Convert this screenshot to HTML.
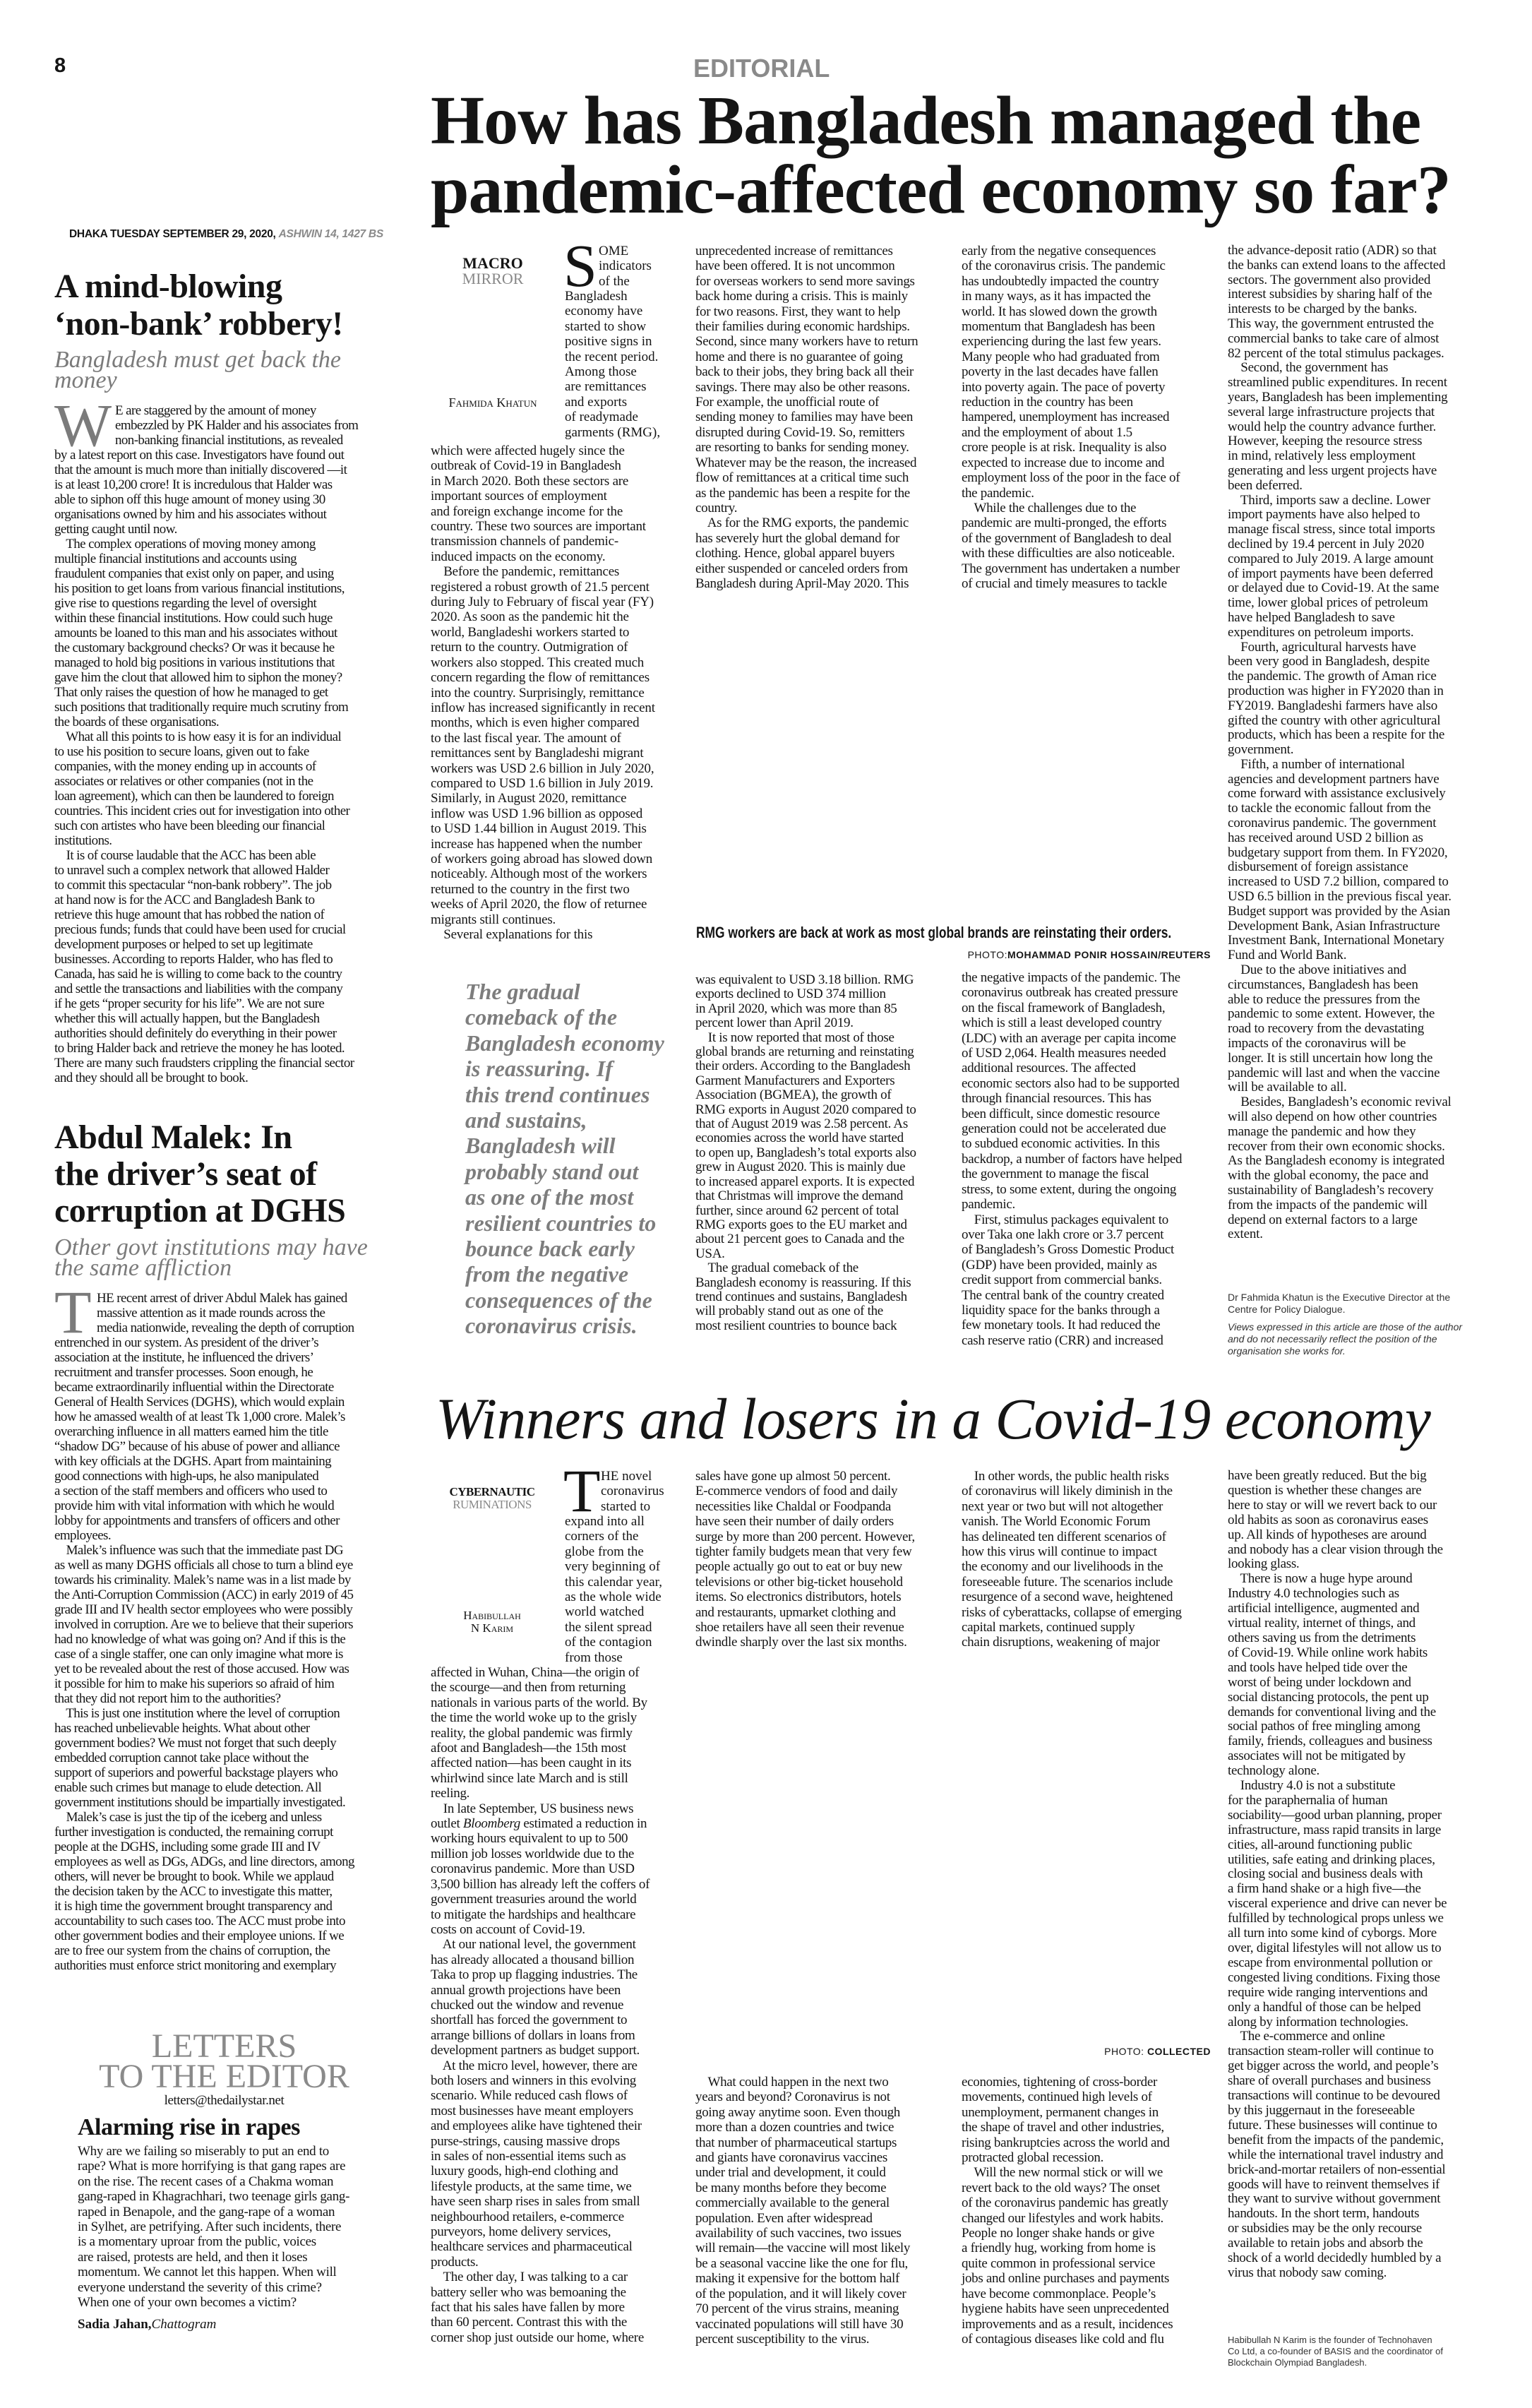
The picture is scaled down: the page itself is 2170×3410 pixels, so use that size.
<!DOCTYPE html>
<html><head><meta charset="utf-8">
<style>
html,body{margin:0;padding:0;background:#fff;}
body{width:2170px;height:3410px;position:relative;overflow:hidden;font-family:"Liberation Serif",serif;color:#151515;}
.a{position:absolute;white-space:pre;}
.b{font-size:19px;line-height:21.4px;}
.l{font-size:19px;line-height:21px;letter-spacing:-0.6px;}
.g{color:#7b7b7b;}
.sans{font-family:"Liberation Sans",sans-serif;}
</style></head><body>

<div class="a sans" style="left:77px;top:79px;font-size:29px;line-height:29px;font-weight:bold;">8</div>
<div class="a sans g" style="left:982px;top:79px;font-size:36px;line-height:36px;font-weight:bold;color:#8a8a8a;">EDITORIAL</div>

<div class="a" style="left:610px;top:122px;font-size:98px;line-height:98px;font-weight:bold;letter-spacing:-1px;">How has Bangladesh managed the
pandemic-affected economy so far?</div>

<div class="a sans" style="left:98px;top:324px;font-size:16px;line-height:16px;font-weight:bold;transform:scaleX(0.97);transform-origin:0 0;letter-spacing:-0.3px;">DHAKA TUESDAY SEPTEMBER 29, 2020, <i style="color:#8a8a8a">ASHWIN 14, 1427 BS</i></div>

<!-- LEFT COLUMN ARTICLE 1 -->
<div class="a" style="left:77px;top:379px;font-size:48px;line-height:53px;font-weight:bold;letter-spacing:-0.5px;">A mind-blowing
‘non-bank’ robbery!</div>
<div class="a g" style="left:77px;top:495px;font-size:34px;line-height:29px;font-style:italic;">Bangladesh must get back the
money</div>
<div class="a g" style="left:77px;top:559px;font-size:86px;line-height:86px;">W</div>
<div class="a l" style="left:163px;top:571px;">E are staggered by the amount of money
embezzled by PK Halder and his associates from
non-banking financial institutions, as revealed</div>
<div class="a l" style="left:77px;top:634px;">by a latest report on this case. Investigators have found out
that the amount is much more than initially discovered —it
is at least 10,200 crore! It is incredulous that Halder was
able to siphon off this huge amount of money using 30
organisations owned by him and his associates without
getting caught until now.
    The complex operations of moving money among
multiple financial institutions and accounts using
fraudulent companies that exist only on paper, and using
his position to get loans from various financial institutions,
give rise to questions regarding the level of oversight
within these financial institutions. How could such huge
amounts be loaned to this man and his associates without
the customary background checks? Or was it because he
managed to hold big positions in various institutions that
gave him the clout that allowed him to siphon the money?
That only raises the question of how he managed to get
such positions that traditionally require much scrutiny from
the boards of these organisations.
    What all this points to is how easy it is for an individual
to use his position to secure loans, given out to fake
companies, with the money ending up in accounts of
associates or relatives or other companies (not in the
loan agreement), which can then be laundered to foreign
countries. This incident cries out for investigation into other
such con artistes who have been bleeding our financial
institutions.
    It is of course laudable that the ACC has been able
to unravel such a complex network that allowed Halder
to commit this spectacular “non-bank robbery”. The job
at hand now is for the ACC and Bangladesh Bank to
retrieve this huge amount that has robbed the nation of
precious funds; funds that could have been used for crucial
development purposes or helped to set up legitimate
businesses. According to reports Halder, who has fled to
Canada, has said he is willing to come back to the country
and settle the transactions and liabilities with the company
if he gets “proper security for his life”. We are not sure
whether this will actually happen, but the Bangladesh
authorities should definitely do everything in their power
to bring Halder back and retrieve the money he has looted.
There are many such fraudsters crippling the financial sector
and they should all be brought to book.</div>

<!-- LEFT COLUMN ARTICLE 2 -->
<div class="a" style="left:77px;top:1585px;font-size:48px;line-height:52px;font-weight:bold;letter-spacing:-0.5px;">Abdul Malek: In
the driver’s seat of
corruption at DGHS</div>
<div class="a g" style="left:77px;top:1752px;font-size:34px;line-height:29px;font-style:italic;">Other govt institutions may have
the same affliction</div>
<div class="a g" style="left:77px;top:1815px;font-size:86px;line-height:86px;">T</div>
<div class="a l" style="left:137px;top:1828px;">HE recent arrest of driver Abdul Malek has gained
massive attention as it made rounds across the
media nationwide, revealing the depth of corruption</div>
<div class="a l" style="left:77px;top:1891px;">entrenched in our system. As president of the driver’s
association at the institute, he influenced the drivers’
recruitment and transfer processes. Soon enough, he
became extraordinarily influential within the Directorate
General of Health Services (DGHS), which would explain
how he amassed wealth of at least Tk 1,000 crore. Malek’s
overarching influence in all matters earned him the title
“shadow DG” because of his abuse of power and alliance
with key officials at the DGHS. Apart from maintaining
good connections with high-ups, he also manipulated
a section of the staff members and officers who used to
provide him with vital information with which he would
lobby for appointments and transfers of officers and other
employees.
    Malek’s influence was such that the immediate past DG
as well as many DGHS officials all chose to turn a blind eye
towards his criminality. Malek’s name was in a list made by
the Anti-Corruption Commission (ACC) in early 2019 of 45
grade III and IV health sector employees who were possibly
involved in corruption. Are we to believe that their superiors
had no knowledge of what was going on? And if this is the
case of a single staffer, one can only imagine what more is
yet to be revealed about the rest of those accused. How was
it possible for him to make his superiors so afraid of him
that they did not report him to the authorities?
    This is just one institution where the level of corruption
has reached unbelievable heights. What about other
government bodies? We must not forget that such deeply
embedded corruption cannot take place without the
support of superiors and powerful backstage players who
enable such crimes but manage to elude detection. All
government institutions should be impartially investigated.
    Malek’s case is just the tip of the iceberg and unless
further investigation is conducted, the remaining corrupt
people at the DGHS, including some grade III and IV
employees as well as DGs, ADGs, and line directors, among
others, will never be brought to book. While we applaud
the decision taken by the ACC to investigate this matter,
it is high time the government brought transparency and
accountability to such cases too. The ACC must probe into
other government bodies and their employee unions. If we
are to free our system from the chains of corruption, the
authorities must enforce strict monitoring and exemplary</div>

<!-- LETTERS -->
<div class="a g" style="left:77px;top:2876px;width:481px;text-align:center;font-size:48px;line-height:43px;color:#8a8a8a;">LETTERS
TO THE EDITOR</div>
<div class="a" style="left:77px;top:2964px;width:481px;text-align:center;font-size:19px;line-height:21px;letter-spacing:-0.4px;">letters@thedailystar.net</div>
<div class="a" style="left:110px;top:2996px;font-size:34px;line-height:34px;font-weight:bold;letter-spacing:-0.5px;">Alarming rise in rapes</div>
<div class="a b" style="left:110px;top:3036px;letter-spacing:-0.3px;">Why are we failing so miserably to put an end to
rape? What is more horrifying is that gang rapes are
on the rise. The recent cases of a Chakma woman
gang-raped in Khagrachhari, two teenage girls gang-
raped in Benapole, and the gang-rape of a woman
in Sylhet, are petrifying. After such incidents, there
is a momentary uproar from the public, voices
are raised, protests are held, and then it loses
momentum. We cannot let this happen. When will
everyone understand the severity of this crime?
When one of your own becomes a victim?</div>
<div class="a b" style="left:110px;top:3281px;"><b>Sadia Jahan,</b><i>Chattogram</i></div>

<!-- TOP ARTICLE -->
<div class="a" style="left:640px;top:362px;width:116px;text-align:center;font-size:22px;line-height:22px;"><b>MACRO</b>
<span style="color:#888">MIRROR</span></div>
<div class="a" style="left:620px;top:561px;width:156px;text-align:center;font-size:18px;line-height:18px;font-variant:small-caps;">Fahmida Khatun</div>
<div class="a" style="left:798px;top:333px;font-size:86px;line-height:86px;">S</div>
<div class="a b" style="left:848px;top:345px;">OME
indicators
of the</div>
<div class="a b" style="left:800px;top:409px;">Bangladesh
economy have
started to show
positive signs in
the recent period.
Among those
are remittances
and exports
of readymade
garments (RMG),</div>
<div class="a b" style="left:610px;top:628px;letter-spacing:-0.2px;">which were affected hugely since the
outbreak of Covid-19 in Bangladesh
in March 2020. Both these sectors are
important sources of employment
and foreign exchange income for the
country. These two sources are important
transmission channels of pandemic-
induced impacts on the economy.
    Before the pandemic, remittances
registered a robust growth of 21.5 percent
during July to February of fiscal year (FY)
2020. As soon as the pandemic hit the
world, Bangladeshi workers started to
return to the country. Outmigration of
workers also stopped. This created much
concern regarding the flow of remittances
into the country. Surprisingly, remittance
inflow has increased significantly in recent
months, which is even higher compared
to the last fiscal year. The amount of
remittances sent by Bangladeshi migrant
workers was USD 2.6 billion in July 2020,
compared to USD 1.6 billion in July 2019.
Similarly, in August 2020, remittance
inflow was USD 1.96 billion as opposed
to USD 1.44 billion in August 2019. This
increase has happened when the number
of workers going abroad has slowed down
noticeably. Although most of the workers
returned to the country in the first two
weeks of April 2020, the flow of returnee
migrants still continues.
    Several explanations for this</div>

<div class="a b" style="left:985px;top:345px;letter-spacing:-0.3px;">unprecedented increase of remittances
have been offered. It is not uncommon
for overseas workers to send more savings
back home during a crisis. This is mainly
for two reasons. First, they want to help
their families during economic hardships.
Second, since many workers have to return
home and there is no guarantee of going
back to their jobs, they bring back all their
savings. There may also be other reasons.
For example, the unofficial route of
sending money to families may have been
disrupted during Covid-19. So, remitters
are resorting to banks for sending money.
Whatever may be the reason, the increased
flow of remittances at a critical time such
as the pandemic has been a respite for the
country.
    As for the RMG exports, the pandemic
has severely hurt the global demand for
clothing. Hence, global apparel buyers
either suspended or canceled orders from
Bangladesh during April-May 2020. This</div>

<div class="a b" style="left:1362px;top:345px;letter-spacing:-0.3px;">early from the negative consequences
of the coronavirus crisis. The pandemic
has undoubtedly impacted the country
in many ways, as it has impacted the
world. It has slowed down the growth
momentum that Bangladesh has been
experiencing during the last few years.
Many people who had graduated from
poverty in the last decades have fallen
into poverty again. The pace of poverty
reduction in the country has been
hampered, unemployment has increased
and the employment of about 1.5
crore people is at risk. Inequality is also
expected to increase due to income and
employment loss of the poor in the face of
the pandemic.
    While the challenges due to the
pandemic are multi-pronged, the efforts
of the government of Bangladesh to deal
with these difficulties are also noticeable.
The government has undertaken a number
of crucial and timely measures to tackle</div>

<div class="a b" style="left:1739px;top:345px;line-height:20.8px;letter-spacing:-0.2px;">the advance-deposit ratio (ADR) so that
the banks can extend loans to the affected
sectors. The government also provided
interest subsidies by sharing half of the
interests to be charged by the banks.
This way, the government entrusted the
commercial banks to take care of almost
82 percent of the total stimulus packages.
    Second, the government has
streamlined public expenditures. In recent
years, Bangladesh has been implementing
several large infrastructure projects that
would help the country advance further.
However, keeping the resource stress
in mind, relatively less employment
generating and less urgent projects have
been deferred.
    Third, imports saw a decline. Lower
import payments have also helped to
manage fiscal stress, since total imports
declined by 19.4 percent in July 2020
compared to July 2019. A large amount
of import payments have been deferred
or delayed due to Covid-19. At the same
time, lower global prices of petroleum
have helped Bangladesh to save
expenditures on petroleum imports.
    Fourth, agricultural harvests have
been very good in Bangladesh, despite
the pandemic. The growth of Aman rice
production was higher in FY2020 than in
FY2019. Bangladeshi farmers have also
gifted the country with other agricultural
products, which has been a respite for the
government.
    Fifth, a number of international
agencies and development partners have
come forward with assistance exclusively
to tackle the economic fallout from the
coronavirus pandemic. The government
has received around USD 2 billion as
budgetary support from them. In FY2020,
disbursement of foreign assistance
increased to USD 7.2 billion, compared to
USD 6.5 billion in the previous fiscal year.
Budget support was provided by the Asian
Development Bank, Asian Infrastructure
Investment Bank, International Monetary
Fund and World Bank.
    Due to the above initiatives and
circumstances, Bangladesh has been
able to reduce the pressures from the
pandemic to some extent. However, the
road to recovery from the devastating
impacts of the coronavirus will be
longer. It is still uncertain how long the
pandemic will last and when the vaccine
will be available to all.
    Besides, Bangladesh’s economic revival
will also depend on how other countries
manage the pandemic and how they
recover from their own economic shocks.
As the Bangladesh economy is integrated
with the global economy, the pace and
sustainability of Bangladesh’s recovery
from the impacts of the pandemic will
depend on external factors to a large
extent.</div>
<div class="a sans" style="left:1739px;top:1829px;font-size:14px;line-height:17px;color:#333;">Dr Fahmida Khatun is the Executive Director at the
Centre for Policy Dialogue.</div>
<div class="a sans" style="left:1739px;top:1871px;font-size:14px;line-height:17px;font-style:italic;color:#333;">Views expressed in this article are those of the author
and do not necessarily reflect the position of the
organisation she works for.</div>

<div class="a sans" style="left:986px;top:1310px;font-size:22px;line-height:22px;font-weight:bold;transform:scaleX(0.79);transform-origin:0 0;">RMG workers are back at work as most global brands are reinstating their orders.</div>
<div class="a sans" style="left:1360px;top:1345px;width:355px;text-align:right;font-size:14px;line-height:14px;letter-spacing:0.5px;">PHOTO:<b>MOHAMMAD PONIR HOSSAIN/REUTERS</b></div>

<div class="a" style="left:659px;top:1386px;font-size:32px;line-height:36.4px;font-weight:bold;font-style:italic;color:#7d7d7d;">The gradual
comeback of the
Bangladesh economy
is reassuring. If
this trend continues
and sustains,
Bangladesh will
probably stand out
as one of the most
resilient countries to
bounce back early
from the negative
consequences of the
coronavirus crisis.</div>

<div class="a b" style="left:985px;top:1378px;line-height:20.4px;letter-spacing:-0.3px;">was equivalent to USD 3.18 billion. RMG
exports declined to USD 374 million
in April 2020, which was more than 85
percent lower than April 2019.
    It is now reported that most of those
global brands are returning and reinstating
their orders. According to the Bangladesh
Garment Manufacturers and Exporters
Association (BGMEA), the growth of
RMG exports in August 2020 compared to
that of August 2019 was 2.58 percent. As
economies across the world have started
to open up, Bangladesh’s total exports also
grew in August 2020. This is mainly due
to increased apparel exports. It is expected
that Christmas will improve the demand
further, since around 62 percent of total
RMG exports goes to the EU market and
about 21 percent goes to Canada and the
USA.
    The gradual comeback of the
Bangladesh economy is reassuring. If this
trend continues and sustains, Bangladesh
will probably stand out as one of the
most resilient countries to bounce back</div>

<div class="a b" style="left:1362px;top:1374px;letter-spacing:-0.3px;">the negative impacts of the pandemic. The
coronavirus outbreak has created pressure
on the fiscal framework of Bangladesh,
which is still a least developed country
(LDC) with an average per capita income
of USD 2,064. Health measures needed
additional resources. The affected
economic sectors also had to be supported
through financial resources. This has
been difficult, since domestic resource
generation could not be accelerated due
to subdued economic activities. In this
backdrop, a number of factors have helped
the government to manage the fiscal
stress, to some extent, during the ongoing
pandemic.
    First, stimulus packages equivalent to
over Taka one lakh crore or 3.7 percent
of Bangladesh’s Gross Domestic Product
(GDP) have been provided, mainly as
credit support from commercial banks.
The central bank of the country created
liquidity space for the banks through a
few monetary tools. It had reduced the
cash reserve ratio (CRR) and increased</div>

<!-- SECOND ARTICLE -->
<div class="a" style="left:617px;top:1964px;font-size:83px;line-height:90px;font-style:italic;letter-spacing:-0.5px;">Winners and losers in a Covid-19 economy</div>

<div class="a" style="left:630px;top:2104px;width:134px;text-align:center;font-size:17px;line-height:18px;letter-spacing:-0.5px;"><b>CYBERNAUTIC</b>
<span style="color:#888">RUMINATIONS</span></div>
<div class="a" style="left:630px;top:2279px;width:134px;text-align:center;font-size:17px;line-height:18px;font-variant:small-caps;">Habibullah
N Karim</div>
<div class="a" style="left:798px;top:2068px;font-size:86px;line-height:86px;">T</div>
<div class="a b" style="left:851px;top:2080px;">HE novel
coronavirus
started to</div>
<div class="a b" style="left:800px;top:2144px;">expand into all
corners of the
globe from the
very beginning of
this calendar year,
as the whole wide
world watched
the silent spread
of the contagion
from those</div>
<div class="a b" style="left:610px;top:2358px;letter-spacing:-0.3px;">affected in Wuhan, China—the origin of
the scourge—and then from returning
nationals in various parts of the world. By
the time the world woke up to the grisly
reality, the global pandemic was firmly
afoot and Bangladesh—the 15th most
affected nation—has been caught in its
whirlwind since late March and is still
reeling.
    In late September, US business news
outlet <i>Bloomberg</i> estimated a reduction in
working hours equivalent to up to 500
million job losses worldwide due to the
coronavirus pandemic. More than USD
3,500 billion has already left the coffers of
government treasuries around the world
to mitigate the hardships and healthcare
costs on account of Covid-19.
    At our national level, the government
has already allocated a thousand billion
Taka to prop up flagging industries. The
annual growth projections have been
chucked out the window and revenue
shortfall has forced the government to
arrange billions of dollars in loans from
development partners as budget support.
    At the micro level, however, there are
both losers and winners in this evolving
scenario. While reduced cash flows of
most businesses have meant employers
and employees alike have tightened their
purse-strings, causing massive drops
in sales of non-essential items such as
luxury goods, high-end clothing and
lifestyle products, at the same time, we
have seen sharp rises in sales from small
neighbourhood retailers, e-commerce
purveyors, home delivery services,
healthcare services and pharmaceutical
products.
    The other day, I was talking to a car
battery seller who was bemoaning the
fact that his sales have fallen by more
than 60 percent. Contrast this with the
corner shop just outside our home, where</div>

<div class="a b" style="left:985px;top:2080px;letter-spacing:-0.3px;">sales have gone up almost 50 percent.
E-commerce vendors of food and daily
necessities like Chaldal or Foodpanda
have seen their number of daily orders
surge by more than 200 percent. However,
tighter family budgets mean that very few
people actually go out to eat or buy new
televisions or other big-ticket household
items. So electronics distributors, hotels
and restaurants, upmarket clothing and
shoe retailers have all seen their revenue
dwindle sharply over the last six months.</div>

<div class="a b" style="left:1362px;top:2080px;letter-spacing:-0.3px;">    In other words, the public health risks
of coronavirus will likely diminish in the
next year or two but will not altogether
vanish. The World Economic Forum
has delineated ten different scenarios of
how this virus will continue to impact
the economy and our livelihoods in the
foreseeable future. The scenarios include
resurgence of a second wave, heightened
risks of cyberattacks, collapse of emerging
capital markets, continued supply
chain disruptions, weakening of major</div>

<div class="a sans" style="left:1360px;top:2898px;width:355px;text-align:right;font-size:14px;line-height:14px;letter-spacing:0.5px;">PHOTO: <b>COLLECTED</b></div>

<div class="a b" style="left:985px;top:2938px;letter-spacing:-0.3px;">    What could happen in the next two
years and beyond? Coronavirus is not
going away anytime soon. Even though
more than a dozen countries and twice
that number of pharmaceutical startups
and giants have coronavirus vaccines
under trial and development, it could
be many months before they become
commercially available to the general
population. Even after widespread
availability of such vaccines, two issues
will remain—the vaccine will most likely
be a seasonal vaccine like the one for flu,
making it expensive for the bottom half
of the population, and it will likely cover
70 percent of the virus strains, meaning
vaccinated populations will still have 30
percent susceptibility to the virus.</div>

<div class="a b" style="left:1362px;top:2938px;letter-spacing:-0.3px;">economies, tightening of cross-border
movements, continued high levels of
unemployment, permanent changes in
the shape of travel and other industries,
rising bankruptcies across the world and
protracted global recession.
    Will the new normal stick or will we
revert back to the old ways? The onset
of the coronavirus pandemic has greatly
changed our lifestyles and work habits.
People no longer shake hands or give
a friendly hug, working from home is
quite common in professional service
jobs and online purchases and payments
have become commonplace. People’s
hygiene habits have seen unprecedented
improvements and as a result, incidences
of contagious diseases like cold and flu</div>

<div class="a b" style="left:1739px;top:2080px;line-height:20.9px;letter-spacing:-0.3px;">have been greatly reduced. But the big
question is whether these changes are
here to stay or will we revert back to our
old habits as soon as coronavirus eases
up. All kinds of hypotheses are around
and nobody has a clear vision through the
looking glass.
    There is now a huge hype around
Industry 4.0 technologies such as
artificial intelligence, augmented and
virtual reality, internet of things, and
others saving us from the detriments
of Covid-19. While online work habits
and tools have helped tide over the
worst of being under lockdown and
social distancing protocols, the pent up
demands for conventional living and the
social pathos of free mingling among
family, friends, colleagues and business
associates will not be mitigated by
technology alone.
    Industry 4.0 is not a substitute
for the paraphernalia of human
sociability—good urban planning, proper
infrastructure, mass rapid transits in large
cities, all-around functioning public
utilities, safe eating and drinking places,
closing social and business deals with
a firm hand shake or a high five—the
visceral experience and drive can never be
fulfilled by technological props unless we
all turn into some kind of cyborgs. More
over, digital lifestyles will not allow us to
escape from environmental pollution or
congested living conditions. Fixing those
require wide ranging interventions and
only a handful of those can be helped
along by information technologies.
    The e-commerce and online
transaction steam-roller will continue to
get bigger across the world, and people’s
share of overall purchases and business
transactions will continue to be devoured
by this juggernaut in the foreseeable
future. These businesses will continue to
benefit from the impacts of the pandemic,
while the international travel industry and
brick-and-mortar retailers of non-essential
goods will have to reinvent themselves if
they want to survive without government
handouts. In the short term, handouts
or subsidies may be the only recourse
available to retain jobs and absorb the
shock of a world decidedly humbled by a
virus that nobody saw coming.</div>
<div class="a sans" style="left:1739px;top:3306px;font-size:13px;line-height:16px;color:#333;">Habibullah N Karim is the founder of Technohaven
Co Ltd, a co-founder of BASIS and the coordinator of
Blockchain Olympiad Bangladesh.</div>

</body></html>
